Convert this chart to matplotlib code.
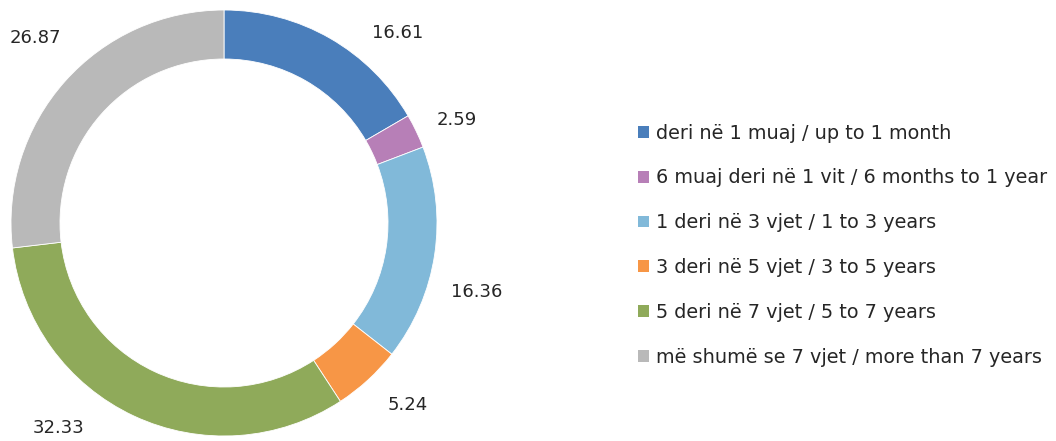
import matplotlib.pyplot as plt
from matplotlib.patches import Patch

# duration categories and shares (%)
labels = [
    "deri në 1 muaj / up to 1 month",
    "6 muaj deri në 1 vit / 6 months to 1 year",
    "1 deri në 3 vjet / 1 to 3 years",
    "3 deri në 5 vjet / 3 to 5 years",
    "5 deri në 7 vjet / 5 to 7 years",
    "më shumë se 7 vjet / more than 7 years",
]
values = [16.61, 2.59, 16.36, 5.24, 32.33, 26.87]
colors = ["#4a7ebb", "#b77fb7", "#81b9d9", "#f79646", "#8faa5a", "#b9b9b9"]

# where each value label sits, in pie units (radius = 1)
label_pos = [(0.817, 0.892), (1.094, 0.484), (1.188, -0.324),
             (0.864, -0.854), (-0.775, -0.962), (-0.887, 0.869)]

W, H = 1056, 441
fig = plt.figure(figsize=(W / 100, H / 100), dpi=100)
ax = fig.add_axes([11 / W, 5 / H, 426 / W, 426 / H])

ax.pie(values, colors=colors, startangle=90, counterclock=False, radius=1,
       wedgeprops=dict(width=0.23, edgecolor="white", linewidth=0.6))
ax.set_xlim(-1, 1)
ax.set_ylim(-1, 1)
ax.set_aspect("equal")
ax.axis("off")

txt = "#262626"
for v, (x, y) in zip(values, label_pos):
    ax.text(x, y, f"{v:.2f}", ha="center", va="center", fontsize=13, color=txt)

handles = [Patch(facecolor=c, edgecolor="none") for c in colors]
fig.legend(handles, labels, loc="center left", bbox_to_anchor=(621 / W, 0.444),
           frameon=False, fontsize=13.9, labelcolor=txt,
           handlelength=0.57, handleheight=0.57, handletextpad=0.35,
           labelspacing=1.34)

fig.savefig("out.png", dpi=100)
